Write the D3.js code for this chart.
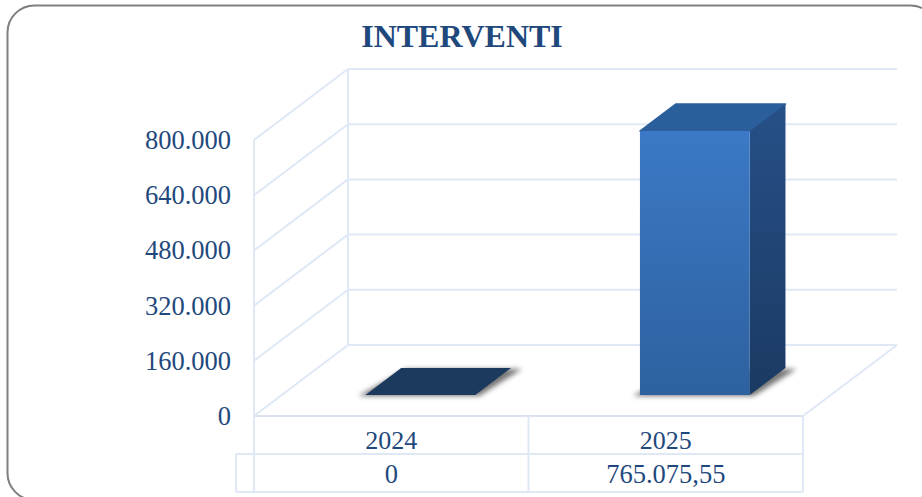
<!DOCTYPE html>
<html><head><meta charset="utf-8">
<script src="https://cdn.jsdelivr.net/npm/d3@7"></script>
<style>html,body{margin:0;padding:0;background:#fff;overflow:hidden}svg{display:block}text{font-family:"Liberation Serif",serif;fill:#1f497d}</style>
</head><body><svg id="c" width="922" height="497"></svg>
<script>
const categories = ["2024", "2025"];
const values = [0, 765075.55];
const tableLabels = ["0", "765.075,55"];
const yTicks = [0, 160000, 320000, 480000, 640000, 800000];
const tickLabels = ["0", "160.000", "320.000", "480.000", "640.000", "800.000"];
const chartTitle = "INTERVENTI";

const svg = d3.select("#c");
const fx0 = 254, fx1 = 803, fy0 = 416, fy1 = 140, dX = 94, dY = -71;
const x = d3.scaleBand().domain(categories).range([fx0, fx1]).paddingInner(0).paddingOuter(0);
const y = d3.scaleLinear().domain([0, 800000]).range([fy0, fy1]);
const grid = "#dfe8f5";

const defs = svg.append("defs");
const g1 = defs.append("linearGradient").attr("id", "front").attr("x1", 0).attr("y1", 0).attr("x2", 0).attr("y2", 1);
g1.append("stop").attr("offset", 0).attr("stop-color", "#3b79c6");
g1.append("stop").attr("offset", 1).attr("stop-color", "#2e619f");
const g2 = defs.append("linearGradient").attr("id", "side").attr("x1", 0).attr("y1", 0).attr("x2", 0).attr("y2", 1);
g2.append("stop").attr("offset", 0).attr("stop-color", "#265088");
g2.append("stop").attr("offset", 1).attr("stop-color", "#1b3a62");
const blur = defs.append("filter").attr("id", "sh").attr("x", "-30%").attr("y", "-60%").attr("width", "160%").attr("height", "220%");
blur.append("feGaussianBlur").attr("stdDeviation", 2.5);

// frame
svg.append("rect").attr("x", 7.5).attr("y", 5.5).attr("width", 930).attr("height", 494.5).attr("rx", 27).attr("fill", "#fff").attr("stroke", "#7f7f7f").attr("stroke-width", 2);

const line = (a, b, c, d) => svg.append("line").attr("x1", a).attr("y1", b).attr("x2", c).attr("y2", d).attr("stroke", grid).attr("stroke-width", 2).attr("fill", "none");

// walls and gridlines
yTicks.forEach(t => {
  const v = y(t);
  line(fx0, v, fx0 + dX, v + dY);
  line(fx0 + dX, v + dY, fx1 + dX, v + dY);
});
line(fx0, y(0), fx0, y(800000));
line(fx0 + dX, y(0) + dY, fx0 + dX, y(800000) + dY);
line(fx1 + dX, y(0) + dY, fx1, y(0));
line(fx0, y(0), fx1, y(0)).attr("stroke", "#dde3ee");

// table
const rowY = 454, botY = 492, leftX = 236;
[fx0, x(categories[1]), fx1].forEach(v => line(v, fy0, v, botY));
line(leftX, rowY, fx1, rowY);
line(leftX, botY, fx1, botY);
line(leftX, rowY, leftX, botY);

// bars
const d0 = 0.295, d1 = 0.675, barStart = 0.305, barEnd = 0.705;
const pt = (px, py, d) => [px + d * dX, py + d * dY];
const path = pts => "M" + pts.map(p => p.join(",")).join("L") + "Z";
categories.forEach((c, i) => {
  const left = x(c) + barStart * x.bandwidth();
  const right = x(c) + barEnd * x.bandwidth();
  const b = y(0), t = y(values[i]);
  // floor shadow
  svg.append("path").attr("filter", "url(#sh)").attr("fill", "#555").attr("opacity", .8)
    .attr("d", path([pt(left - 7, b + 1, d0), pt(right + 4, b + 1, d0), pt(right + 11, b + 1, d1), pt(left + 5, b + 1, d1)]));
  const face = (fill, pts, r) => svg.append("path").attr("fill", fill).attr("stroke", fill).attr("stroke-width", r).attr("stroke-linejoin", "round").attr("d", path(pts));
  if (values[i] > 0) {
    face("#2b5f9c", [pt(left, t, d0), pt(left, t, d1), pt(right, t, d1), pt(right, t, d0)], 1.5);
    svg.append("path").attr("fill", "url(#side)").attr("d", path([pt(right, t, d0), pt(right, t, d1), pt(right, b, d1), pt(right, b, d0)]));
    svg.append("path").attr("fill", "url(#front)").attr("d", path([pt(left, t, d0), pt(right, t, d0), pt(right, b, d0), pt(left, b, d0)]));
  } else {
    svg.append("path").attr("fill", "#1c3a5e").attr("d", path([pt(left, b, d0), pt(left, b, d1), pt(right, b, d1), pt(right, b, d0)]));
  }
});

// text
svg.append("text").attr("x", 462).attr("y", 47).attr("text-anchor", "middle").attr("font-size", 32).attr("font-weight", "bold").text(chartTitle);
yTicks.forEach((t, i) => {
  svg.append("text").attr("x", 231).attr("y", y(t) + 9).attr("text-anchor", "end").attr("font-size", 26.5).text(tickLabels[i]);
});
categories.forEach((c, i) => {
  const cx = x(c) + x.bandwidth() / 2;
  svg.append("text").attr("x", cx).attr("y", 449).attr("text-anchor", "middle").attr("font-size", 26).text(c);
  svg.append("text").attr("x", cx).attr("y", 483).attr("text-anchor", "middle").attr("font-size", 26.5).text(tableLabels[i]);
});
</script></body></html>
